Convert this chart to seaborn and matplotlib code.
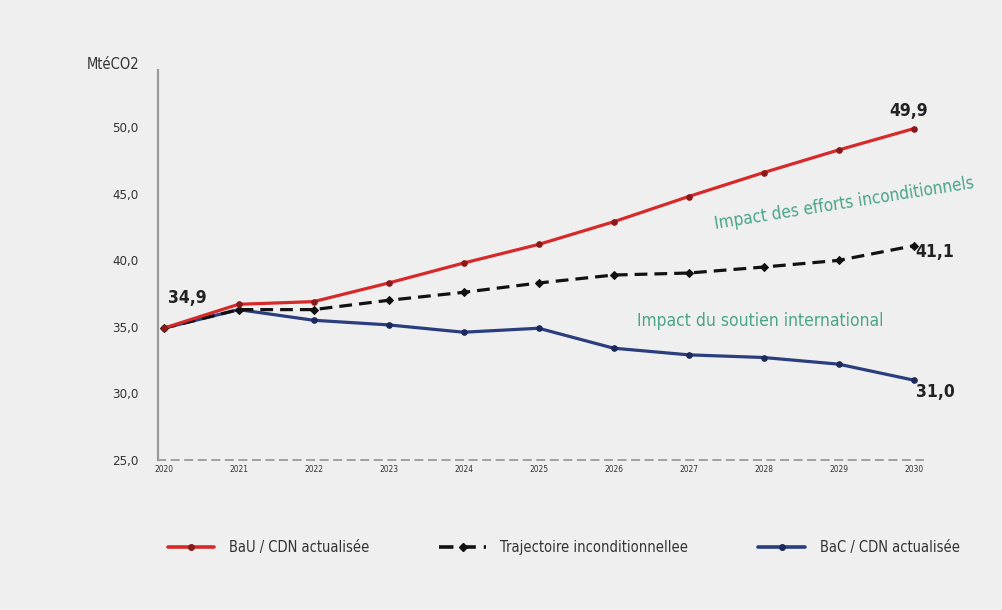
import matplotlib
matplotlib.use("Agg")
import matplotlib.pyplot as plt
import seaborn as sns
import pandas as pd
from matplotlib.lines import Line2D

# Emission trajectories (MtéCO2)
years = [2020, 2021, 2022, 2023, 2024, 2025, 2026, 2027, 2028, 2029, 2030]
bau = [34.9, 36.7, 36.9, 38.3, 39.8, 41.2, 42.9, 44.8, 46.6, 48.3, 49.9]
inconditionnel = [34.9, 36.3, 36.3, 37.0, 37.6, 38.3, 38.9, 39.05, 39.5, 40.0, 41.1]
bac = [34.9, 36.3, 35.5, 35.15, 34.6, 34.9, 33.4, 32.9, 32.7, 32.2, 31.0]

series_names = ["BaU / CDN actualisée", "Trajectoire inconditionnellee", "BaC / CDN actualisée"]
y_ticks = [25, 30, 35, 40, 45, 50]

sns.set_theme(style="white")
plt.rcParams["font.family"] = ["DejaVu Sans"]
plt.rcParams["font.stretch"] = "condensed"

BG = "#efefef"
RED = "#d7282a"
BLUE = "#2a3d7c"
BLACK = "#111111"
GREEN = "#4aa58a"

fig = plt.figure(figsize=(10.02, 6.10), dpi=100, facecolor=BG)
ax = fig.add_axes([0.158, 0.246, 0.7635, 0.639], facecolor=BG)

df = pd.DataFrame({
    "year": years * 3,
    "value": bau + inconditionnel + bac,
    "serie": [series_names[0]] * 11 + [series_names[1]] * 11 + [series_names[2]] * 11,
})

styles = {
    series_names[0]: dict(color=RED, ls="-", marker="o", mfc="#8a1a1a"),
    series_names[1]: dict(color=BLACK, ls=(0, (4, 2.2)), marker="D", mfc=BLACK),
    series_names[2]: dict(color=BLUE, ls="-", marker="o", mfc="#1c2a5a"),
}

# Blue first so that the red and black trajectories sit above it
for name in [series_names[2], series_names[1], series_names[0]]:
    st = styles[name]
    sub = df[df["serie"] == name]
    sns.lineplot(data=sub, x="year", y="value", ax=ax, color=st["color"],
                 linestyle=st["ls"], linewidth=2.3, marker=st["marker"],
                 markersize=4, markerfacecolor=st["mfc"],
                 markeredgecolor=st["mfc"], legend=False)

ax.set_xlim(2019.93, 2030.13)
ax.set_ylim(25, 54.3)
ax.set_xlabel("")
ax.set_ylabel("")

ax.set_xticks(years)
ax.set_xticklabels([str(y) for y in years], fontsize=6, color="#333333")
ax.set_yticks(y_ticks)
ax.set_yticklabels([f"{v:.1f}".replace(".", ",") for v in y_ticks],
                   fontsize=9.5, color="#333333")
ax.tick_params(axis="x", direction="in", length=4, width=0.8, color="#9a9a9a", pad=4)
ax.tick_params(axis="y", length=0, pad=14)

for side in ["top", "right"]:
    ax.spines[side].set_visible(False)
ax.spines["left"].set_color("#9a9a9a")
ax.spines["left"].set_linewidth(1.6)
ax.spines["bottom"].set_color("#9a9a9a")
ax.spines["bottom"].set_linewidth(1.3)
ax.spines["bottom"].set_linestyle((0, (4, 3.5)))

ax.text(-0.025, 1.015, "MtéCO2", transform=ax.transAxes, ha="right", va="center",
        fontsize=10.5, color="#333333")

# Value labels at both ends of the trajectories
lab = dict(fontsize=12.5, fontweight="bold", color="#222222")
ax.text(years[0] + 0.31, bau[0] + 2.3, f"{bau[0]:.1f}".replace(".", ","),
        ha="center", va="center", **lab)
ax.text(years[-1] - 0.07, bau[-1] + 1.3, f"{bau[-1]:.1f}".replace(".", ","),
        ha="center", va="center", **lab)
ax.text(years[-1] + 0.02, inconditionnel[-1] - 0.45,
        f"{inconditionnel[-1]:.1f}".replace(".", ","), ha="left", va="center", **lab)
ax.text(years[-1] + 0.03, bac[-1] - 0.9, f"{bac[-1]:.1f}".replace(".", ","),
        ha="left", va="center", **lab)

ax.text(2029.07, 44.3, "Impact des efforts inconditionnels", ha="center",
        va="center", fontsize=12.3, color=GREEN, rotation=9)
ax.text(2027.96, 35.45, "Impact du soutien international", ha="center",
        va="center", fontsize=12.5, color=GREEN)

handles = [
    Line2D([0], [0], color=RED, lw=2.6, marker="o", ms=4,
           mfc="#8a1a1a", mec="#8a1a1a"),
    Line2D([0], [0], color=BLACK, lw=2.6, ls=(0, (4, 2.2)), marker="D", ms=4),
    Line2D([0], [0], color=BLUE, lw=2.6, marker="o", ms=4,
           mfc="#1c2a5a", mec="#1c2a5a"),
]
fig.legend(handles, series_names, loc="center left", bbox_to_anchor=(0.16, 0.102),
           ncol=3, frameon=False, fontsize=10.5, handlelength=3.2, borderpad=0,
           columnspacing=4.8, handletextpad=1.0, labelcolor="#333333")

fig.savefig("out.png", dpi=100, facecolor=BG)
